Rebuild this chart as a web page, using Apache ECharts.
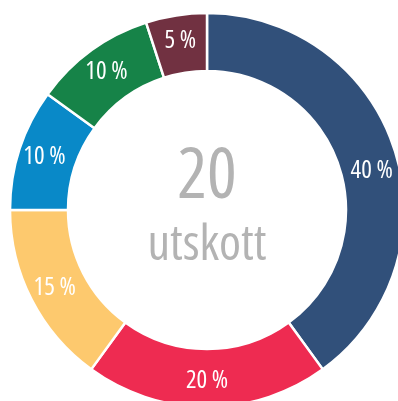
<!DOCTYPE html>
<html>
<head>
<meta charset="utf-8">
<script src="https://cdn.jsdelivr.net/npm/echarts@6/dist/echarts.min.js"></script>
<style>
  html, body { margin: 0; padding: 0; background: #ffffff; }
  #chart { width: 398px; height: 401px; }
</style>
</head>
<body>
<div id="chart"></div>
<script>
// Share of committees per group (percent), clockwise from 12 o'clock
const categories = ['A', 'B', 'C', 'D', 'E', 'F'];
const shares = [40, 20, 15, 10, 10, 5];
const colors = ['#31507a', '#ee2b51', '#fdc96e', '#0989c8', '#168348', '#713141'];
const centerNumber = '20';
const centerWord = 'utskott';

// Condensed face of Open Sans (set via the weight/stretch part of the font string)
const FONT = "'Open Sans', sans-serif";
const STRETCH = 'normal condensed';

const chart = echarts.init(document.getElementById('chart'));

const data = categories.map((name, i) => {
  const item = {
    name: name,
    value: shares[i],
    itemStyle: { color: colors[i] }
  };
  if (i === 0) item.label = { offset: [2, 14] };
  return item;
});

chart.setOption({
  animation: false,
  series: [{
    type: 'pie',
    center: [207, 210],
    radius: [139, 197],
    startAngle: 90,
    clockwise: true,
    avoidLabelOverlap: false,
    itemStyle: { borderColor: '#ffffff', borderWidth: 2.5 },
    label: {
      show: true,
      position: 'inside',
      formatter: p => p.value + ' %',
      color: '#ffffff',
      fontFamily: FONT,
      fontWeight: STRETCH,
      fontSize: 25
    },
    labelLine: { show: false },
    emphasis: { disabled: true },
    data: data
  }],
  graphic: [
    {
      type: 'text',
      x: 207,
      y: 178,
      style: {
        text: centerNumber,
        fontFamily: FONT,
        fontWeight: STRETCH,
        fontSize: 70,
        fill: '#b3b3b3',
        align: 'center',
        verticalAlign: 'middle'
      }
    },
    {
      type: 'text',
      x: 207,
      y: 246,
      style: {
        text: centerWord,
        fontFamily: FONT,
        fontWeight: STRETCH,
        fontSize: 50,
        fill: '#b3b3b3',
        align: 'center',
        verticalAlign: 'middle'
      }
    }
  ]
});
</script>
</body>
</html>
